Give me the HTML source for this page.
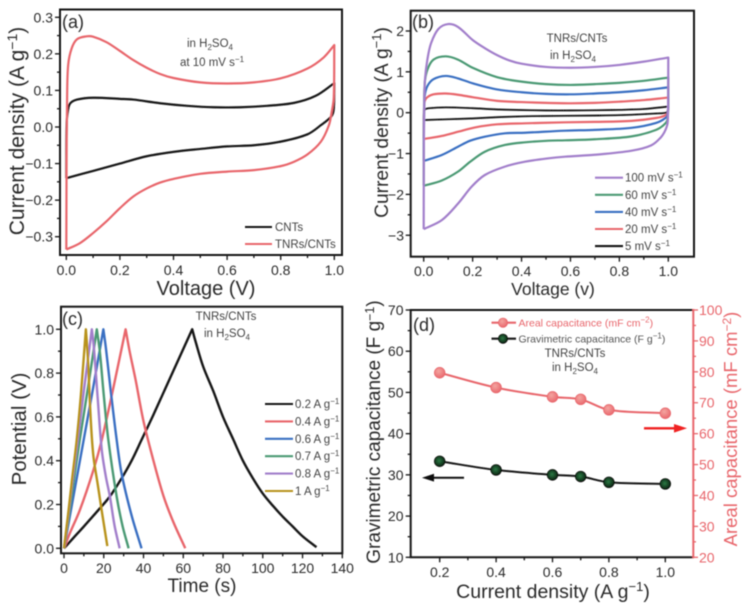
<!DOCTYPE html>
<html lang="en">
<head>
<meta charset="utf-8">
<title>Electrochemical performance charts</title>
<style>
html,body{margin:0;padding:0;background:#fff;width:749px;height:607px;overflow:hidden}
svg{display:block}
text{font-family:"Liberation Sans",sans-serif;fill:#2b2b2b}
.tick{font-size:14px}
.title{font-size:20px}
.note{font-size:11.5px;fill:#444}
.panel{font-size:18px}
.red{fill:#e8666c}
</style>
</head>
<body>
<svg id="chart" xmlns="http://www.w3.org/2000/svg" width="749" height="607" viewBox="0 0 749 607">
<defs>
<filter id="soft" x="-2%" y="-2%" width="104%" height="104%"><feGaussianBlur stdDeviation="0.5"/></filter>
<radialGradient id="ballRed" cx="40%" cy="35%" r="70%"><stop offset="0" stop-color="#f4a5a0"/><stop offset="1" stop-color="#e8666c"/></radialGradient>
<radialGradient id="ballGreen" cx="45%" cy="45%" r="65%"><stop offset="0" stop-color="#2c7a44"/><stop offset="1" stop-color="#041208"/></radialGradient>
</defs>
<g id="root" filter="url(#soft)">
<text class="panel" x="62" y="28">(a)</text>
<text class="panel" x="412" y="28">(b)</text>
<text class="panel" x="62" y="325">(c)</text>
<text class="panel" x="413" y="331">(d)</text>

<text class="title" x="206" y="295" text-anchor="middle">Voltage (V)</text>
<text class="title" style="font-size:21px" transform="translate(24,131) rotate(-90)" text-anchor="middle">Current density (A g<tspan dy="-7" font-size="14">−1</tspan><tspan dy="7">)</tspan></text>
<text class="note" x="210" y="47" text-anchor="middle">in H<tspan dy="3" font-size="8">2</tspan><tspan dy="-3">SO</tspan><tspan dy="3" font-size="8">4</tspan></text>
<text class="note" x="212" y="66" text-anchor="middle">at 10 mV s<tspan dy="-4" font-size="8">−1</tspan></text>

<text class="title" style="font-size:17.5px" x="553" y="295" text-anchor="middle">Voltage (v)</text>
<text class="title" style="font-size:19.2px" transform="translate(388,122.5) rotate(-90)" text-anchor="middle">Current density (A g<tspan dy="-7" font-size="13">−1</tspan><tspan dy="7">)</tspan></text>
<text class="note" x="577" y="42" text-anchor="middle">TNRs/CNTs</text>
<text class="note" x="573" y="59" text-anchor="middle">in H<tspan dy="3" font-size="8">2</tspan><tspan dy="-3">SO</tspan><tspan dy="3" font-size="8">4</tspan></text>

<text class="title" style="font-size:19px" x="202" y="592" text-anchor="middle">Time (s)</text>
<text class="title" style="font-size:20.5px" transform="translate(26,429) rotate(-90)" text-anchor="middle">Potential (V)</text>
<text class="note" x="226" y="320" text-anchor="middle">TNRs/CNTs</text>
<text class="note" x="227" y="337" text-anchor="middle">in H<tspan dy="3" font-size="8">2</tspan><tspan dy="-3">SO</tspan><tspan dy="3" font-size="8">4</tspan></text>

<text class="title" style="font-size:19.5px" x="553" y="598" text-anchor="middle">Current density (A g<tspan dy="-7" font-size="13">−1</tspan><tspan dy="7">)</tspan></text>
<text class="title" style="font-size:19px" transform="translate(380,432) rotate(-90)" text-anchor="middle">Gravimetric capacitance (F g<tspan dy="-6" font-size="12.5">−1</tspan><tspan dy="6">)</tspan></text>
<text class="title red" style="font-size:18.5px" transform="translate(737,429) rotate(-90)" text-anchor="middle">Areal capacitance (mF cm<tspan class="red" dy="-6" font-size="12">−2</tspan><tspan class="red" dy="6">)</tspan></text>
<text class="note" x="575" y="357" text-anchor="middle">TNRs/CNTs</text>
<text class="note" x="575" y="371" text-anchor="middle">in H<tspan dy="3" font-size="8">2</tspan><tspan dy="-3">SO</tspan><tspan dy="3" font-size="8">4</tspan></text>

<path d="M644 428.3H679" stroke="#f02020" stroke-width="2.4" fill="none"/>
<path d="M687 428.3L674 424V432.6Z" fill="#f02020"/>
<path d="M464 477.7H430" stroke="#111" stroke-width="2" fill="none"/>
<path d="M422 477.7L434 473.8V481.6Z" fill="#111"/>
</g>
</svg>
<script>
// Panel (a): cyclic voltammetry at 10 mV/s
const aTnrUpV = [0,0.001,0.003,0.007,0.02,0.04,0.076,0.1,0.15,0.2,0.25,0.3,0.35,0.4,0.5,0.6,0.7,0.8,0.9,0.96,1];
const aTnrUpI = [-0.335,-0.1,0.08,0.17,0.215,0.24,0.248,0.247,0.232,0.208,0.183,0.162,0.145,0.134,0.122,0.119,0.122,0.133,0.16,0.19,0.224];
const aTnrDownV = [1,0.998,0.99,0.98,0.95,0.9,0.85,0.8,0.7,0.6,0.5,0.4,0.35,0.3,0.25,0.2,0.15,0.1,0.05,0];
const aTnrDownI = [0.224,0.08,0.04,0.005,-0.04,-0.075,-0.095,-0.107,-0.118,-0.122,-0.128,-0.142,-0.152,-0.168,-0.19,-0.222,-0.258,-0.29,-0.318,-0.335];
const aCntUpV = [0,0.001,0.006,0.015,0.04,0.1,0.2,0.25,0.35,0.45,0.55,0.65,0.75,0.85,0.93,1];
const aCntUpI = [-0.14,0,0.045,0.065,0.075,0.08,0.077,0.075,0.065,0.058,0.054,0.054,0.058,0.066,0.085,0.12];
const aCntDownV = [1,0.998,0.99,0.95,0.9,0.8,0.7,0.6,0.5,0.4,0.3,0.2,0.1,0];
const aCntDownI = [0.12,0.05,0.03,0.005,-0.02,-0.04,-0.05,-0.053,-0.06,-0.068,-0.08,-0.1,-0.12,-0.14];
const aXTicks = [0,0.2,0.4,0.6,0.8,1];
const aXLabels = ['0.0','0.2','0.4','0.6','0.8','1.0'];
const aYTicks = [-0.3,-0.2,-0.1,0,0.1,0.2,0.3];
const aYLabels = ['−0.3','−0.2','−0.1','0.0','0.1','0.2','0.3'];
const aLegendLabels = ['CNTs','TNRs/CNTs'];

// Panel (b): scan-rate series
const bXTicks = [0,0.2,0.4,0.6,0.8,1];
const bXLabels = ['0.0','0.2','0.4','0.6','0.8','1.0'];
const bYTicks = [-3,-2,-1,0,1,2];
const bYLabels = ['−3','−2','−1','0','1','2'];
const bLegendLabels = ['100 mV s','60 mV s','40 mV s','20 mV s','5 mV s'];
const b100UpV = [0,0.0005,0.002,0.005,0.015,0.03,0.06,0.1,0.14,0.2,0.25,0.3,0.35,0.4,0.5,0.6,0.7,0.8,0.9,1];
const b100UpI = [-2.85,-1,0.2,0.8,1.3,1.7,2.05,2.17,2.1,1.78,1.58,1.41,1.28,1.2,1.12,1.1,1.12,1.17,1.25,1.35];
const b100DownV = [1,0.998,0.99,0.97,0.93,0.85,0.7,0.578,0.51,0.414,0.332,0.25,0.196,0.141,0.074,0];
const b100DownI = [1.35,-0.2,-0.4,-0.6,-0.8,-0.93,-1.03,-1.077,-1.117,-1.2,-1.32,-1.525,-1.81,-2.22,-2.63,-2.85];
const b60UpV = [0,0.001,0.004,0.015,0.04,0.09,0.14,0.2,0.3,0.4,0.5,0.6,0.7,0.8,0.9,1];
const b60UpI = [-1.78,-0.3,0.7,1.05,1.3,1.38,1.3,1.1,0.87,0.76,0.7,0.68,0.7,0.73,0.78,0.86];
const b60DownV = [1,0.998,0.99,0.95,0.85,0.7,0.578,0.51,0.414,0.332,0.25,0.19,0.141,0.074,0];
const b60DownI = [0.86,-0.1,-0.25,-0.42,-0.58,-0.65,-0.676,-0.685,-0.725,-0.79,-0.955,-1.2,-1.44,-1.66,-1.79];
const b40UpV = [0,0.001,0.004,0.015,0.04,0.09,0.14,0.2,0.3,0.4,0.5,0.6,0.7,0.8,0.9,1];
const b40UpI = [-1.18,-0.2,0.4,0.65,0.82,0.9,0.84,0.72,0.57,0.5,0.46,0.45,0.47,0.5,0.55,0.62];
const b40DownV = [1,0.998,0.99,0.95,0.85,0.7,0.578,0.414,0.332,0.25,0.19,0.141,0.074,0];
const b40DownI = [0.62,-0.02,-0.12,-0.25,-0.37,-0.42,-0.44,-0.49,-0.505,-0.587,-0.685,-0.83,-1.035,-1.18];
const b20UpV = [0,0.001,0.004,0.015,0.04,0.09,0.14,0.2,0.3,0.4,0.5,0.6,0.7,0.8,0.9,1];
const b20UpI = [-0.63,-0.1,0.28,0.38,0.45,0.47,0.44,0.38,0.29,0.26,0.24,0.23,0.24,0.27,0.31,0.37];
const b20DownV = [1,0.998,0.99,0.95,0.85,0.7,0.578,0.414,0.3,0.21,0.141,0.074,0];
const b20DownI = [0.37,0.02,-0.06,-0.13,-0.2,-0.225,-0.235,-0.26,-0.285,-0.36,-0.465,-0.57,-0.644];
const b5UpV = [0,0.001,0.005,0.02,0.09,0.2,0.3,0.4,0.5,0.6,0.7,0.8,0.9,1];
const b5UpI = [-0.18,0,0.08,0.11,0.13,0.11,0.08,0.065,0.055,0.055,0.06,0.07,0.09,0.15];
const b5DownV = [1,0.998,0.99,0.95,0.85,0.7,0.5,0.4,0.3,0.2,0.1,0];
const b5DownI = [0.15,0.05,0,-0.02,-0.05,-0.07,-0.08,-0.09,-0.11,-0.14,-0.16,-0.18];

// Panel (c): charge/discharge curves
const cXTicks = [0,20,40,60,80,100,120,140];
const cYTicks = [0,0.2,0.4,0.6,0.8,1];
const cYLabels = ['0.0','0.2','0.4','0.6','0.8','1.0'];
const cLegendLabels = ['0.2 A g','0.4 A g','0.6 A g','0.7 A g','0.8 A g','1 A g'];
const c02ChargeT = [0,5,10,18,23,29,34,39,45,50,55,60,64.5];
const c02ChargeV = [0,0.05,0.1,0.182,0.236,0.32,0.4,0.495,0.61,0.71,0.81,0.91,1];
const c02DischargeT = [64.5,66,70,75,80,85,90,95,100,105,110,115,120,127];
const c02DischargeV = [1,0.95,0.83,0.72,0.6,0.5,0.4,0.32,0.25,0.195,0.145,0.1,0.055,0.005];
const c04ChargeT = [0,3,8,14.8,19,25,31];
const c04ChargeV = [0,0.07,0.175,0.357,0.495,0.74,1];
const c04DischargeT = [31,33,36,40,45,50,55,61];
const c04DischargeV = [1,0.9,0.77,0.58,0.4,0.24,0.12,0];
const c06ChargeT = [0,2,5,10,15,19.8];
const c06ChargeV = [0,0.1,0.25,0.5,0.75,1];
const c06DischargeT = [19.8,21,23.5,26.5,29,34,39];
const c06DischargeV = [1,0.92,0.72,0.495,0.34,0.15,0];
const c07ChargeT = [0,2,4,8,12,16.5];
const c07ChargeV = [0,0.12,0.25,0.5,0.73,1];
const c07DischargeT = [16.5,18,20,22.3,26.5,29.5,32.5];
const c07DischargeV = [1,0.9,0.7,0.495,0.236,0.1,0];
const c08ChargeT = [0,2,4,7,10,14];
const c08ChargeV = [0,0.14,0.29,0.5,0.72,1];
const c08DischargeT = [14,15,17,19,21,23.1,25.5,28];
const c08DischargeV = [1,0.92,0.68,0.449,0.33,0.236,0.1,0];
const c1ChargeT = [0,2,4,6.4,8.5,11];
const c1ChargeV = [0,0.15,0.31,0.495,0.7,1];
const c1DischargeT = [11,12,13.5,14.8,17,19,21.8];
const c1DischargeV = [1,0.87,0.58,0.42,0.29,0.17,0.01];

// Panel (d): capacitance vs current density
const dCurrent = [0.2,0.4,0.6,0.7,0.8,1];
const dAreal = [79.7,74.9,71.9,71.1,67.7,66.6];
const dGravimetric = [33.3,31.2,30,29.6,28.2,27.8];
const dXTicks = [0.2,0.4,0.6,0.8,1];
const dXLabels = ['0.2','0.4','0.6','0.8','1.0'];
const dLeftTicks = [10,20,30,40,50,60,70];
const dRightTicks = [20,30,40,50,60,70,80,90,100];
const dLegendLabels = ['Areal capacitance (mF cm','Gravimetric capacitance (F g'];

const NS = 'http://www.w3.org/2000/svg';
const root = document.getElementById('root');
const BLACK = '#141414', RED = '#e8666c', BLUE = '#3b70c2', GREEN = '#4c9a74', PURPLE = '#a27fcb', GOLD = '#b8931f';

function linear(d0, d1, r0, r1) {
  return function (v) { return r0 + (v - d0) * (r1 - r0) / (d1 - d0); };
}
function make(tag, attrs, parent) {
  const el = document.createElementNS(NS, tag);
  for (const k in attrs) el.setAttribute(k, attrs[k]);
  (parent || root).appendChild(el);
  return el;
}
function smooth(xs, ys, sx, sy, first) {
  const p = xs.map(function (x, i) { return [sx(x), sy(ys[i])]; });
  const tan = p.map(function (q, i) {
    const a = p[Math.max(i - 1, 0)], c = p[Math.min(i + 1, p.length - 1)];
    const dx = c[0] - a[0], dy = c[1] - a[1], n = Math.hypot(dx, dy) || 1;
    return [dx / n, dy / n];
  });
  let d = (first ? 'M' : 'L') + p[0][0].toFixed(2) + ' ' + p[0][1].toFixed(2);
  for (let i = 0; i < p.length - 1; i++) {
    const b = p[i], c = p[i + 1];
    const len = Math.hypot(c[0] - b[0], c[1] - b[1]) / 3;
    d += 'C' + (b[0] + tan[i][0] * len).toFixed(2) + ' ' + (b[1] + tan[i][1] * len).toFixed(2) +
      ' ' + (c[0] - tan[i + 1][0] * len).toFixed(2) + ' ' + (c[1] - tan[i + 1][1] * len).toFixed(2) +
      ' ' + c[0].toFixed(2) + ' ' + c[1].toFixed(2);
  }
  return d;
}
function series(name, color, sx, sy, xa, ya, xb, yb, width) {
  const d = smooth(xa, ya, sx, sy, true) + smooth(xb, yb, sx, sy, false);
  const el = make('path', { d: d, fill: 'none', stroke: color, 'stroke-width': width || 2.2, 'stroke-linejoin': 'round' });
  
  
  return el;
}
function tickLine(x1, y1, x2, y2, color) {
  const el = make('line', { x1: x1, y1: y1, x2: x2, y2: y2, stroke: color, 'stroke-width': 1.3 });
  
  
}
function bottomAxis(sx, ticks, labels, yBase, baseline, minor) {
  ticks.forEach(function (t, i) {
    tickLine(sx(t), yBase, sx(t), yBase + 5, BLACK);
    if (minor && i < ticks.length - 1) {
      const m = (t + ticks[i + 1]) / 2;
      tickLine(sx(m), yBase, sx(m), yBase + 3, BLACK);
    }
    const lab = make('text', { class: 'tick', x: sx(t), y: baseline, 'text-anchor': 'middle' });
    lab.textContent = labels[i];
    
    
  });
}
function leftAxis(sy, ticks, labels, xBase, labelX, minor) {
  ticks.forEach(function (t, i) {
    tickLine(xBase, sy(t), xBase - 5, sy(t), BLACK);
    if (minor && i < ticks.length - 1) {
      const m = (t + ticks[i + 1]) / 2;
      tickLine(xBase, sy(m), xBase - 3, sy(m), BLACK);
    }
    const lab = make('text', { class: 'tick', x: labelX, y: sy(t) + 5, 'text-anchor': 'end' });
    lab.textContent = labels[i];
    
    
  });
}
function frame(name, x0, y0, x1, y1) {
  const el = make('rect', { x: x0, y: y0, width: x1 - x0, height: y1 - y0, fill: 'none', stroke: BLACK, 'stroke-width': 2 });
  
  
}
function legendRow(label, sup, color, x0, x1, y, tx, closing) {
  const ln = make('line', { x1: x0, y1: y, x2: x1, y2: y, stroke: color, 'stroke-width': 2.1 });
  
  
  const t = make('text', { class: 'note', x: tx, y: y + 4 });
  t.textContent = label;
  
  
  if (sup) {
    const s = make('tspan', { dy: -4, 'font-size': 8 }, t);
    s.textContent = sup;
  }
  if (closing) {
    const c = make('tspan', { dy: 4 }, t);
    c.textContent = closing;
  }
  return t;
}

// ---- Panel (a)
const ax = linear(0, 1, 66.3, 334.3), ay = linear(0, 0.3, 127, 17.3);
frame('a-plot-frame', 60, 9.5, 342, 255);
bottomAxis(ax, aXTicks, aXLabels, 255, 275, true);
leftAxis(ay, aYTicks, aYLabels, 60, 53, true);
series('a-series-cnts', BLACK, ax, ay, aCntUpV, aCntUpI, aCntDownV, aCntDownI);
series('a-series-tnrs-cnts', RED, ax, ay, aTnrUpV, aTnrUpI, aTnrDownV, aTnrDownI);
legendRow(aLegendLabels[0], '', BLACK, 245, 272, 227, 275);
legendRow(aLegendLabels[1], '', RED, 245, 272, 244, 275);

// ---- Panel (b)
const bx = linear(0, 1, 423.7, 668.3), by = linear(0, 2, 112.7, 31);
frame('b-plot-frame', 410.7, 10.7, 694, 256.7);
bottomAxis(bx, bXTicks, bXLabels, 256.7, 276, true);
leftAxis(by, bYTicks, bYLabels, 410.7, 404, true);
series('b-series-5-mv', BLACK, bx, by, b5UpV, b5UpI, b5DownV, b5DownI, 1.8);
series('b-series-20-mv', RED, bx, by, b20UpV, b20UpI, b20DownV, b20DownI);
series('b-series-40-mv', BLUE, bx, by, b40UpV, b40UpI, b40DownV, b40DownI);
series('b-series-60-mv', GREEN, bx, by, b60UpV, b60UpI, b60DownV, b60DownI);
series('b-series-100-mv', PURPLE, bx, by, b100UpV, b100UpI, b100DownV, b100DownI);
[PURPLE, GREEN, BLUE, RED, BLACK].forEach(function (c, i) {
  legendRow(bLegendLabels[i], '−1', c, 595, 623, 177.7 + i * 17.1, 625);
});

// ---- Panel (c)
const cx = linear(0, 140, 64, 342.3), cy = linear(0, 1, 548.3, 329.3);
frame('c-plot-frame', 61, 306.7, 342.3, 553.3);
bottomAxis(cx, cXTicks, cXTicks.map(String), 553.3, 573, true);
leftAxis(cy, cYTicks, cYLabels, 61, 54, true);
series('c-series-0-2', BLACK, cx, cy, c02ChargeT, c02ChargeV, c02DischargeT, c02DischargeV, 2.4);
series('c-series-0-4', RED, cx, cy, c04ChargeT, c04ChargeV, c04DischargeT, c04DischargeV, 2.4);
series('c-series-0-6', BLUE, cx, cy, c06ChargeT, c06ChargeV, c06DischargeT, c06DischargeV, 2.4);
series('c-series-0-7', GREEN, cx, cy, c07ChargeT, c07ChargeV, c07DischargeT, c07DischargeV, 2.4);
series('c-series-0-8', PURPLE, cx, cy, c08ChargeT, c08ChargeV, c08DischargeT, c08DischargeV, 2.4);
series('c-series-1', GOLD, cx, cy, c1ChargeT, c1ChargeV, c1DischargeT, c1DischargeV, 2.4);
[BLACK, RED, BLUE, GREEN, PURPLE, GOLD].forEach(function (c, i) {
  legendRow(cLegendLabels[i], '−1', c, 265, 293, 404 + i * 17.4, 295);
});

// ---- Panel (d)
const dx = linear(0.2, 1, 439.7, 665.3), dl = linear(10, 70, 557.3, 310), dr = linear(20, 100, 557.3, 310);
const dBox = make('path', { d: 'M693.3 310H410.7V557.3H693.3', fill: 'none', stroke: BLACK, 'stroke-width': 2 });


const dRightLine = make('line', { x1: 693.3, y1: 309, x2: 693.3, y2: 558.3, stroke: RED, 'stroke-width': 2 });


bottomAxis(dx, dXTicks, dXLabels, 557.3, 577, true);
leftAxis(dl, dLeftTicks, dLeftTicks.map(String), 410.7, 403.5, true);
dRightTicks.forEach(function (t, i) {
  tickLine(693.3, dr(t), 698, dr(t), RED);
  if (i < dRightTicks.length - 1) {
    const m = (t + dRightTicks[i + 1]) / 2;
    tickLine(693.3, dr(m), 696, dr(m), RED);
  }
  const lab = make('text', { class: 'tick red', x: 699, y: dr(t) + 5 });
  lab.textContent = t;
  
  
});
function marker(px, py, r, fill, stroke, name) {
  const m = make('circle', { cx: px, cy: py, r: r, fill: fill, stroke: stroke, 'stroke-width': 0.8 });
  
  
}
const arealLine = make('path', { d: smooth(dCurrent, dAreal, dx, dr, true), fill: 'none', stroke: RED, 'stroke-width': 2 });


const gravLine = make('path', { d: smooth(dCurrent, dGravimetric, dx, dl, true), fill: 'none', stroke: BLACK, 'stroke-width': 2 });


dCurrent.forEach(function (c, i) {
  marker(dx(c), dr(dAreal[i]), 5.3, 'url(#ballRed)', RED, 'd-areal-point');
  marker(dx(c), dl(dGravimetric[i]), 5.3, 'url(#ballGreen)', '#0a0a0a', 'd-gravimetric-point');
});
const lgA = legendRow(dLegendLabels[0], '−2', RED, 491.5, 516, 322.7, 518.5, ')');
lgA.setAttribute('style', 'fill:#e8666c;font-size:10.5px');
const lgB = legendRow(dLegendLabels[1], '−1', BLACK, 491.5, 516, 338.7, 518.5, ')');
lgB.setAttribute('style', 'fill:#555;font-size:10.5px');
marker(503, 322.7, 4.6, 'url(#ballRed)', RED, 'd-legend-areal-marker');
marker(503, 338.7, 4.6, 'url(#ballGreen)', '#0a0a0a', 'd-legend-gravimetric-marker');
</script>
</body>
</html>
